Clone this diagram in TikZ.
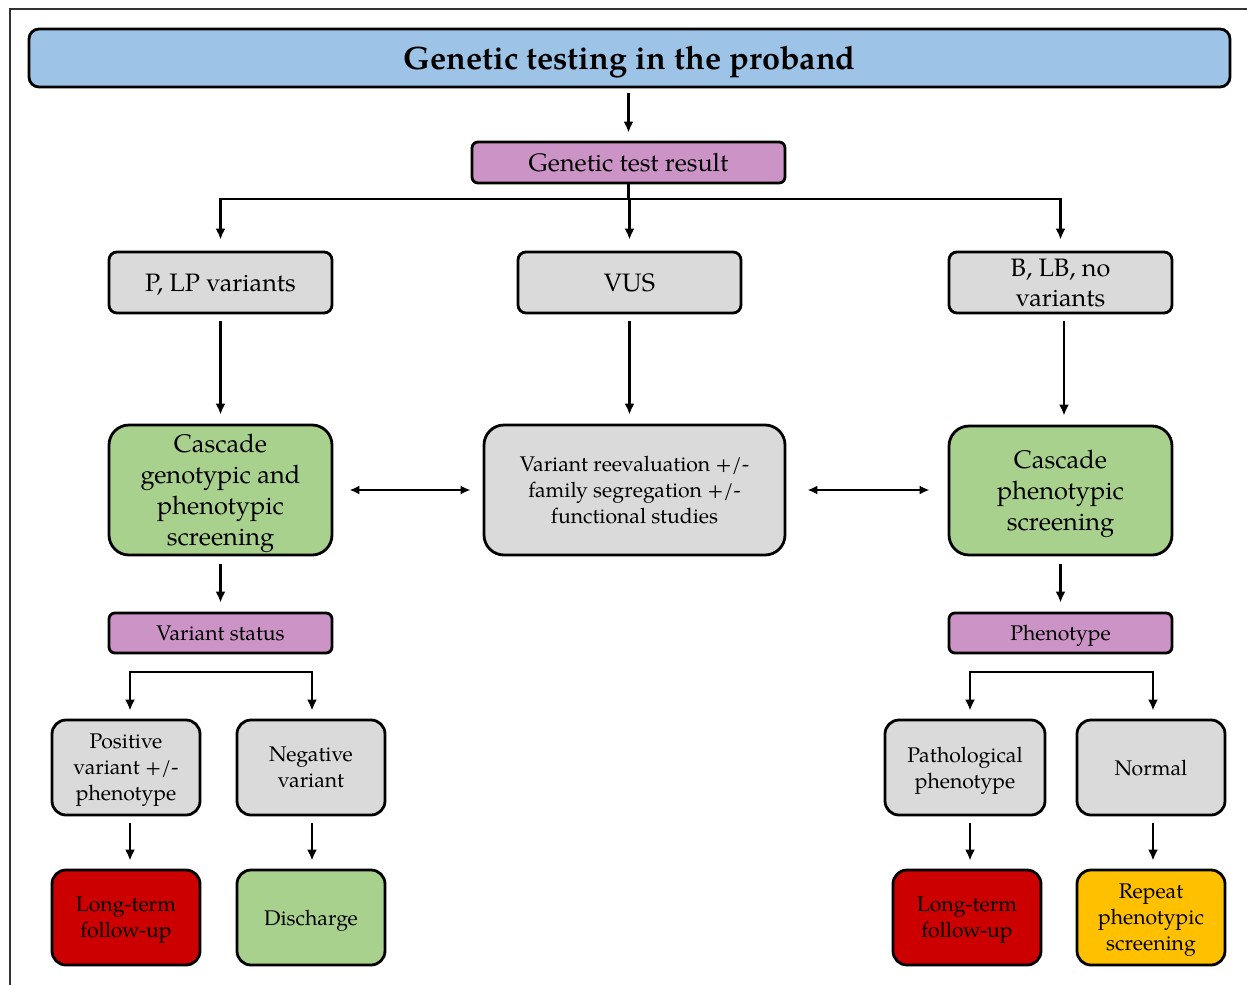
\documentclass[tikz,border=0pt]{standalone}
\usepackage{fontspec}
\setmainfont{TeX Gyre Pagella}
\usetikzlibrary{arrows.meta,calc}
\definecolor{tblue}{HTML}{9DC3E6}
\definecolor{tpurp}{HTML}{CC94C6}
\definecolor{tgray}{HTML}{DADADA}
\definecolor{tgreen}{HTML}{A9D18E}
\definecolor{tred}{HTML}{CC0000}
\definecolor{tyell}{HTML}{FFC000}
\definecolor{frame}{HTML}{333333}
\tikzset{
  box/.style={draw=black, line width=1.4pt, align=center, inner sep=0pt, anchor=center, text depth=0pt},
  arr/.style={line width=1.3pt, -{Latex[length=5.5pt,width=5pt]}},
  darr/.style={line width=1.3pt, {Latex[length=5pt,width=4.5pt]}-{Latex[length=5pt,width=4.5pt]}},
  plain/.style={line width=1.3pt},
  fA/.style={font=\fontsize{12.6}{15}\selectfont},
  fB/.style={font=\fontsize{12.7}{15.5}\selectfont},
  fC/.style={font=\fontsize{10.6}{13}\selectfont},
}
\begin{document}
\begin{tikzpicture}[x=0.5pt,y=-0.5pt]
\useasboundingbox (0,0) rectangle (1247,985);
\draw[frame, line width=1pt] (10,985) -- (10,9) -- (1247,9);

% title
\node[box, fill=tblue, rounded corners=5pt, minimum width=600.5pt, minimum height=29pt,
  font=\fontsize{16.2}{20}\selectfont\bfseries] (T) at (629.5,58) {Genetic testing in the proband};
\node[box, fill=tpurp, rounded corners=3pt, minimum width=156.5pt, minimum height=20.5pt, fA] (R) at (628.5,162.5) {Genetic test result};

% row 2
\node[box, fill=tgray, rounded corners=4pt, minimum width=111.5pt, minimum height=30.5pt, fA] (PLP) at (220.5,282.5) {P, LP variants};
\node[box, fill=tgray, rounded corners=4pt, minimum width=111.5pt, minimum height=30.5pt, fA] (VUS) at (629.5,282.5) {VUS};
\node[box, fill=tgray, rounded corners=4pt, minimum width=111.5pt, minimum height=30.5pt, fA] (BLB) at (1060.5,282.5) {B, LB, no\\variants};

% row 3
\node[box, fill=tgreen, rounded corners=10pt, minimum width=111.5pt, minimum height=65pt, fB] (CG) at (220.5,490) {Cascade\\genotypic and\\phenotypic\\screening};
\node[box, fill=tgray, rounded corners=10pt, minimum width=150.5pt, minimum height=65pt, fC] (RE) at (634.5,490) {Variant reevaluation +/-\\family segregation +/-\\functional studies};
\node[box, fill=tgreen, rounded corners=10pt, minimum width=111.5pt, minimum height=64.5pt, fB] (CP) at (1060.5,490.5) {Cascade\\phenotypic\\screening};

% row 4
\node[box, fill=tpurp, rounded corners=3pt, minimum width=111.5pt, minimum height=20pt, fC] (VS) at (220.5,633) {Variant status};
\node[box, fill=tpurp, rounded corners=3pt, minimum width=111.5pt, minimum height=20pt, fC] (PH) at (1060.5,633) {Phenotype};

% row 5
\node[box, fill=tgray, rounded corners=7pt, minimum width=74pt, minimum height=47.5pt, fC] (POS) at (126,767.5) {Positive\\variant +/-\\phenotype};
\node[box, fill=tgray, rounded corners=7pt, minimum width=74pt, minimum height=47.5pt, fC] (NEG) at (311,767.5) {Negative\\variant};
\node[box, fill=tgray, rounded corners=7pt, minimum width=80pt, minimum height=47.5pt, fC] (PAT) at (965,767.5) {Pathological\\phenotype};
\node[box, fill=tgray, rounded corners=7pt, minimum width=74pt, minimum height=47.5pt, fC] (NOR) at (1151,767.5) {Normal};

% row 6
\node[box, fill=tred, rounded corners=7pt, minimum width=74pt, minimum height=47.5pt, fC] (LT1) at (126,917.5) {Long-term\\follow-up};
\node[box, fill=tgreen, rounded corners=7pt, minimum width=74pt, minimum height=47.5pt, fC] (DIS) at (311,917.5) {Discharge};
\node[box, fill=tred, rounded corners=7pt, minimum width=74pt, minimum height=47.5pt, fC] (LT2) at (967,917.5) {Long-term\\follow-up};
\node[box, fill=tyell, rounded corners=7pt, minimum width=74pt, minimum height=47.5pt, fC] (REP) at (1151,917.5) {Repeat\\phenotypic\\screening};

% connectors
\draw[arr, shorten <=2.5pt, shorten >=4pt] (T.south -| R.north) -- (R.north);
\coordinate (hub) at (628.5,199);
\draw[plain] (R.south) -- (hub);
\draw[arr, shorten >=5.5pt] (hub) -| (PLP.north);
\draw[arr, shorten >=5.5pt] (hub) -- (hub -| VUS.north) -- (VUS.north);
\draw[arr, shorten >=5.5pt] (hub) -| (BLB.north);

\draw[arr, shorten <=3.5pt, shorten >=4.5pt] (PLP.south) -- (CG.north);
\draw[arr, shorten <=3.5pt, shorten >=4.5pt] (VUS.south) -- (VUS.south |- RE.north);
\draw[arr, shorten <=3.5pt, shorten >=4.5pt] ([xshift=1.75pt]BLB.south) -- ([xshift=1.75pt]CP.north);

\draw[darr, shorten <=8pt, shorten >=6pt] (CG.east) -- (CG.east -| RE.west);
\draw[darr, shorten <=10.5pt, shorten >=9pt] (RE.east) -- (RE.east -| CP.west);

\draw[arr, shorten <=4pt, shorten >=4.5pt] (CG.south) -- (VS.north);
\draw[arr, shorten <=4pt, shorten >=4.5pt] (CP.south) -- (PH.north);

\coordinate (sL) at (220.5,672);
\coordinate (sR) at (1060.5,672);
\draw[arr, shorten >=4pt] (sL) -| ([xshift=2pt]POS.north);
\draw[arr, shorten >=4pt] (sL) -| ([xshift=0.5pt]NEG.north);
\draw[arr, shorten >=4pt] (sR) -| ([xshift=2.5pt]PAT.north);
\draw[arr, shorten >=4pt] (sR) -| ([xshift=1pt]NOR.north);

\draw[arr, shorten <=3.5pt, shorten >=4pt] ([xshift=2pt]POS.south) -- ([xshift=2pt]LT1.north);
\draw[arr, shorten <=3.5pt, shorten >=4pt] ([xshift=0.5pt]NEG.south) -- ([xshift=0.5pt]DIS.north);
\draw[arr, shorten <=3.5pt, shorten >=4pt] ([xshift=2.5pt]PAT.south) -- ([xshift=2.5pt]PAT.south |- LT2.north);
\draw[arr, shorten <=3.5pt, shorten >=4pt] ([xshift=1pt]NOR.south) -- ([xshift=1pt]REP.north);
\end{tikzpicture}
\end{document}
